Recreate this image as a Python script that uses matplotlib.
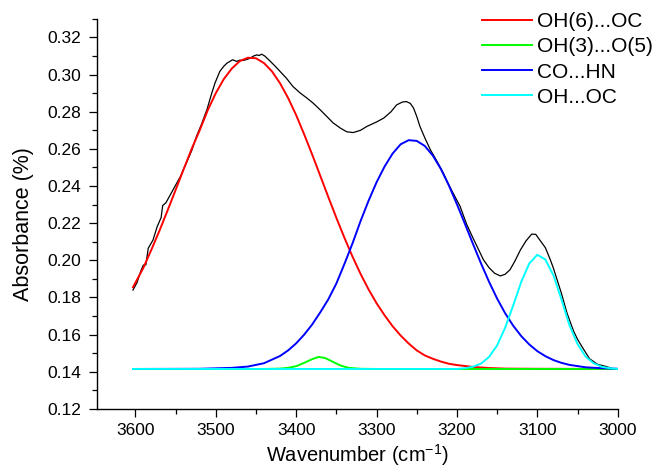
import matplotlib
matplotlib.use('Agg')
import matplotlib.pyplot as plt
from matplotlib.ticker import MultipleLocator

plt.rcParams['font.family'] = ['Liberation Sans', 'DejaVu Sans']
plt.rcParams['mathtext.fontset'] = 'custom'
plt.rcParams['mathtext.rm'] = 'Liberation Sans'
plt.rcParams['mathtext.default'] = 'regular'

# Measured spectrum (sum) in the OH / NH stretching region
spectrum_x = [3603, 3598, 3593, 3590, 3587, 3584, 3578, 3573, 3568, 3566, 3562, 3555,
              3548, 3544, 3538, 3530, 3524, 3518, 3511, 3505, 3501, 3495, 3490, 3486,
              3479, 3474, 3470, 3466, 3461, 3457, 3453, 3449, 3446, 3443, 3439, 3432,
              3426, 3420, 3412, 3404, 3395, 3387, 3379, 3370, 3362, 3354, 3345, 3337,
              3329, 3320, 3312, 3300, 3291, 3282, 3275, 3268, 3263, 3258, 3254, 3250,
              3246, 3240, 3233, 3225, 3217, 3209, 3196, 3188, 3180, 3171, 3167, 3160,
              3153, 3146, 3140, 3134, 3128, 3121, 3114, 3107, 3102, 3097, 3090, 3084,
              3080, 3070, 3063, 3055, 3050, 3043, 3035, 3025, 3014, 3005]
spectrum_y = [0.1840, 0.1880, 0.1945, 0.1975, 0.1975, 0.2065, 0.2110, 0.2180, 0.2230, 0.2295,
              0.2310, 0.2365, 0.2420, 0.2451, 0.2510, 0.2590, 0.2667, 0.2730, 0.2811, 0.2900,
              0.2954, 0.3017, 0.3045, 0.3062, 0.3080, 0.3071, 0.3078, 0.3076, 0.3082, 0.3089,
              0.3100, 0.3106, 0.3103, 0.3110, 0.3100, 0.3071, 0.3045, 0.3017, 0.2980, 0.2936,
              0.2901, 0.2875, 0.2847, 0.2810, 0.2775, 0.2740, 0.2712, 0.2692, 0.2688, 0.2700,
              0.2721, 0.2745, 0.2766, 0.2800, 0.2837, 0.2852, 0.2855, 0.2845, 0.2820, 0.2775,
              0.2721, 0.2660, 0.2595, 0.2535, 0.2470, 0.2397, 0.2290, 0.2195, 0.2120, 0.2039,
              0.2003, 0.1960, 0.1930, 0.1916, 0.1925, 0.1949, 0.1995, 0.2056, 0.2105, 0.2141,
              0.2140, 0.2110, 0.2068, 0.2005, 0.1958, 0.1822, 0.1715, 0.1620, 0.1575, 0.1525,
              0.1470, 0.1440, 0.1428, 0.1414]

# Fitted components
oh6_x = [3603, 3590, 3580, 3570, 3560, 3550, 3540, 3530, 3520, 3510, 3500, 3490, 3480,
         3470, 3460, 3450, 3440, 3430, 3420, 3410, 3400, 3390, 3380, 3370, 3360, 3350,
         3340, 3330, 3320, 3310, 3300, 3290, 3280, 3270, 3260, 3250, 3240, 3230, 3220,
         3210, 3200, 3180, 3160, 3140, 3100, 3000]
oh6_y = [0.1855, 0.1960, 0.2058, 0.2160, 0.2268, 0.2378, 0.2490, 0.2600, 0.2700, 0.2808,
         0.2900, 0.2976, 0.3033, 0.3073, 0.3091, 0.3088, 0.3062, 0.3017, 0.2953, 0.2874,
         0.2782, 0.2678, 0.2569, 0.2455, 0.2341, 0.2229, 0.2122, 0.2021, 0.1928, 0.1844,
         0.1769, 0.1704, 0.1645, 0.1595, 0.1552, 0.1515, 0.1488, 0.1470, 0.1455, 0.1443,
         0.1436, 0.1426, 0.1420, 0.1417, 0.1416, 0.1415]

oh3_x = [3603, 3440, 3420, 3410, 3400, 3390, 3380, 3372, 3364, 3355, 3345, 3335, 3320,
         3300, 3000]
oh3_y = [0.1415, 0.1415, 0.1417, 0.1421, 0.1430, 0.1448, 0.1468, 0.1480, 0.1474, 0.1455,
         0.1434, 0.1421, 0.1416, 0.1415, 0.1415]

cohn_x = [3603, 3520, 3480, 3460, 3440, 3420, 3410, 3400, 3390, 3380, 3370, 3360, 3350,
          3340, 3330, 3320, 3310, 3300, 3290, 3280, 3270, 3260, 3250, 3240, 3230, 3220,
          3210, 3200, 3190, 3180, 3170, 3160, 3150, 3140, 3130, 3120, 3110, 3100, 3090,
          3080, 3070, 3060, 3040, 3020, 3000]
cohn_y = [0.1415, 0.1416, 0.1421, 0.1428, 0.1446, 0.1485, 0.1515, 0.1553, 0.1600, 0.1655,
          0.1720, 0.1790, 0.1875, 0.1980, 0.2090, 0.2210, 0.2320, 0.2420, 0.2505, 0.2575,
          0.2625, 0.2647, 0.2643, 0.2616, 0.2564, 0.2492, 0.2403, 0.2302, 0.2196, 0.2088,
          0.1983, 0.1884, 0.1794, 0.1715, 0.1648, 0.1592, 0.1547, 0.1511, 0.1484, 0.1463,
          0.1448, 0.1437, 0.1424, 0.1419, 0.1416]

ohoc_x = [3603, 3200, 3190, 3180, 3170, 3160, 3150, 3140, 3130, 3120, 3110, 3100, 3090,
          3080, 3070, 3060, 3050, 3040, 3030, 3020, 3010, 3000]
ohoc_y = [0.1415, 0.1415, 0.1419, 0.1427, 0.1444, 0.1480, 0.1542, 0.1637, 0.1757, 0.1884,
          0.1983, 0.2030, 0.2004, 0.1920, 0.1790, 0.1650, 0.1550, 0.1482, 0.1446, 0.1427,
          0.1419, 0.1415]

labels = ['OH(6)...OC', 'OH(3)...O(5)', 'CO...HN', 'OH...OC']
colors = ['#ff0000', '#00ff00', '#0000ff', '#00ffff']

fig = plt.figure(figsize=(6.54, 4.70), dpi=100)
ax = fig.add_axes([0.148, 0.130, 0.7965, 0.8298])

ax.plot(spectrum_x, spectrum_y, color='black', lw=0.9, zorder=2)
components = [(oh6_x, oh6_y), (oh3_x, oh3_y), (cohn_x, cohn_y), (ohoc_x, ohoc_y)]
for (xs, ys), lab, col in zip(components, labels, colors):
    ax.plot(xs, ys, color=col, lw=1.4, label=lab, zorder=3)

ax.set_xlim(3648, 3000)
ax.set_ylim(0.12, 0.33)
ax.xaxis.set_major_locator(MultipleLocator(100))
ax.xaxis.set_minor_locator(MultipleLocator(50))
ax.yaxis.set_major_locator(MultipleLocator(0.02))
ax.yaxis.set_minor_locator(MultipleLocator(0.01))
ax.yaxis.set_major_formatter(plt.FormatStrFormatter('%.2f'))

for side in ['top', 'right']:
    ax.spines[side].set_visible(False)
for side in ['left', 'bottom']:
    ax.spines[side].set_linewidth(1.0)
ax.tick_params(which='major', direction='out', length=6, width=0.9, labelsize=12.5, pad=4)
ax.tick_params(which='minor', direction='out', length=3.5, width=0.9)
ax.tick_params(axis='y', which='major', pad=5)

ax.set_xlabel('Wavenumber (cm$^{-1}$)', fontsize=14.5, labelpad=3)
ax.set_ylabel('Absorbance (%)', fontsize=15.5)
ax.yaxis.set_label_coords(-0.121, 0.474)

fig.legend(loc='upper left', bbox_to_anchor=(482 / 654, 1 - 12 / 470),
           bbox_transform=fig.transFigure, frameon=False, fontsize=15,
           handlelength=2.4, handletextpad=0.25, labelspacing=0.3,
           borderpad=0, borderaxespad=0)

fig.savefig('out.png', dpi=100)
